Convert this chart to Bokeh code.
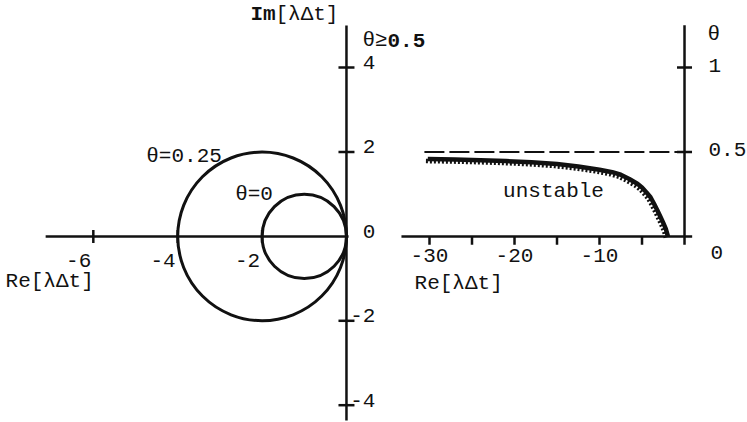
import math

from bokeh.core.properties import value
from bokeh.embed import file_html
from bokeh.models import Range1d
from bokeh.plotting import figure
from bokeh.resources import INLINE

# --- complex plane: stability boundaries of the theta method -------------
circle_labels = ["θ=0", "θ=0.25"]
circle_centers = [-1.0, -2.0]
circle_radii = [1.0, 2.0]

re_ticks = [-6, -4, -2]
re_tick_labels = ["-6", "-4", "-2"]
im_ticks = [4, 2, -2, -4]
im_label_values = [4, 2, 0, -2, -4]
im_tick_labels = ["4", "2", "0", "-2", "-4"]

# --- real axis: theta needed for stability vs Re[lambda dt] ----------------
boundary_re = [-30.2, -27, -24, -21, -18, -15, -12.5, -10, -8.5, -7.5, -6.5,
               -5.5, -5, -4.5, -4, -3.6, -3.2, -2.85, -2.5, -2.2, -1.95]
boundary_theta = [0.458, 0.455, 0.451, 0.446, 0.439, 0.428, 0.414, 0.395,
                  0.38, 0.365, 0.34, 0.31, 0.29, 0.262, 0.232, 0.195, 0.155,
                  0.118, 0.08, 0.045, 0.0]
theta_limit = 0.5
re2_ticks = [-30, -25, -20, -15, -10, -5, 0]
re2_label_values = [-30, -20, -10]
re2_tick_labels = ["-30", "-20", "-10"]
theta_ticks = [1, 0.5]
theta_tick_labels = ["1", "0.5"]

MONO = value("Liberation Mono")
FS = "21px"
INK = "#111111"

# one canvas; the complex plane uses the default ranges, the theta diagram
# its own pair of extra ranges
p = figure(width=747, height=422, x_range=Range1d(-8.2, 9.505),
           y_range=Range1d(-4.41, 5.59), output_backend="svg",
           toolbar_location=None, min_border=0,
           x_axis_location=None, y_axis_location=None)
p.extra_x_ranges = {"re2": Range1d(-80.47, 7.41)}
p.extra_y_ranges = {"theta": Range1d(-1.101, 1.396)}
p.grid.grid_line_color = None
p.outline_line_color = None
p.background_fill_color = "white"
p.border_fill_color = "white"

R = dict(x_range_name="re2", y_range_name="theta")


def label(x, y, text, align="left", dx=0, dy=0, bold=False, **kw):
    p.text(x=[x], y=[y], text=[text], text_font=MONO, text_font_size=FS,
           text_align=align, text_baseline="middle", x_offset=dx, y_offset=dy,
           text_color=INK, text_font_style="bold" if bold else "normal", **kw)


# ------------------------------------------------------------ complex plane
p.segment(x0=[-7.13, 0], y0=[0, -4.36], x1=[0.05, 0], y1=[0, 5.0],
          line_color=INK, line_width=2.5)
p.scatter(x=re_ticks, y=[0] * len(re_ticks), marker="dash", size=13,
          angle=math.pi / 2, line_color=INK, line_width=2.5)
p.scatter(x=[0] * len(im_ticks), y=im_ticks, marker="dash", size=16,
          line_color=INK, line_width=2.5)

p.circle(x=circle_centers, y=[0] * len(circle_centers), radius=circle_radii,
         fill_color=None, line_color=INK, line_width=3)

p.text(x=re_ticks, y=[0] * len(re_ticks), text=re_tick_labels, text_font=MONO,
       text_font_size=FS, text_align="right", text_baseline="middle",
       x_offset=-2, y_offset=24, text_color=INK)
p.text(x=[0] * len(im_label_values), y=im_label_values, text=im_tick_labels,
       text_font=MONO, text_font_size=FS, text_align="right",
       text_baseline="middle", x_offset=29, y_offset=-5, text_color=INK)

label(-3.85, 1.90, circle_labels[1], align="center")
label(-2.19, 0.995, circle_labels[0], align="center")
label(-8.08, -1.07, "Re[λΔt]")
label(-2.275, 5.26, "Im", bold=True)
label(-1.683, 5.26, "[λΔt]")
label(0.379, 4.645, "θ≥")
label(0.972, 4.645, "0.5", bold=True)

# ------------------------------------------------------------ theta diagram
p.segment(x0=[-33.3, 0], y0=[0, 0], x1=[0.9, 0], y1=[0, 1.25],
          line_color=INK, line_width=2.5, **R)
p.scatter(x=re2_ticks, y=[-0.025] * len(re2_ticks), marker="dash", size=8,
          angle=math.pi / 2, line_color=INK, line_width=2.5, **R)
p.scatter(x=[0] * len(theta_ticks), y=theta_ticks, marker="dash", size=15,
          line_color=INK, line_width=2.5, **R)

p.line(x=[-30.6, 0], y=[theta_limit, theta_limit], line_color=INK,
       line_width=2, line_dash="20 5", **R)

# hatched boundary: solid stroke plus teeth on the unstable side
p.line(x=[r - 0.22 for r in boundary_re], y=[t - 0.012 for t in boundary_theta],
       line_color=INK, line_width=4.5, line_dash="2 2", **R)
p.line(x=boundary_re, y=boundary_theta, line_color=INK, line_width=4.5, **R)

p.text(x=re2_label_values, y=[0] * len(re2_label_values), text=re2_tick_labels,
       text_font=MONO, text_font_size=FS, text_align="center",
       text_baseline="middle", y_offset=19, text_color=INK, **R)
p.text(x=[0] * len(theta_ticks), y=theta_ticks, text=theta_tick_labels,
       text_font=MONO, text_font_size=FS, text_align="left",
       text_baseline="middle", x_offset=24, y_offset=-2, text_color=INK, **R)
label(0, 0, "0", dx=26, dy=16, **R)
label(2.71, 1.195, "θ", **R)
label(-31.76, -0.278, "Re[λΔt]", **R)
label(-15.41, 0.266, "unstable", align="center", **R)

open("out.html", "w").write(file_html(p, INLINE))
